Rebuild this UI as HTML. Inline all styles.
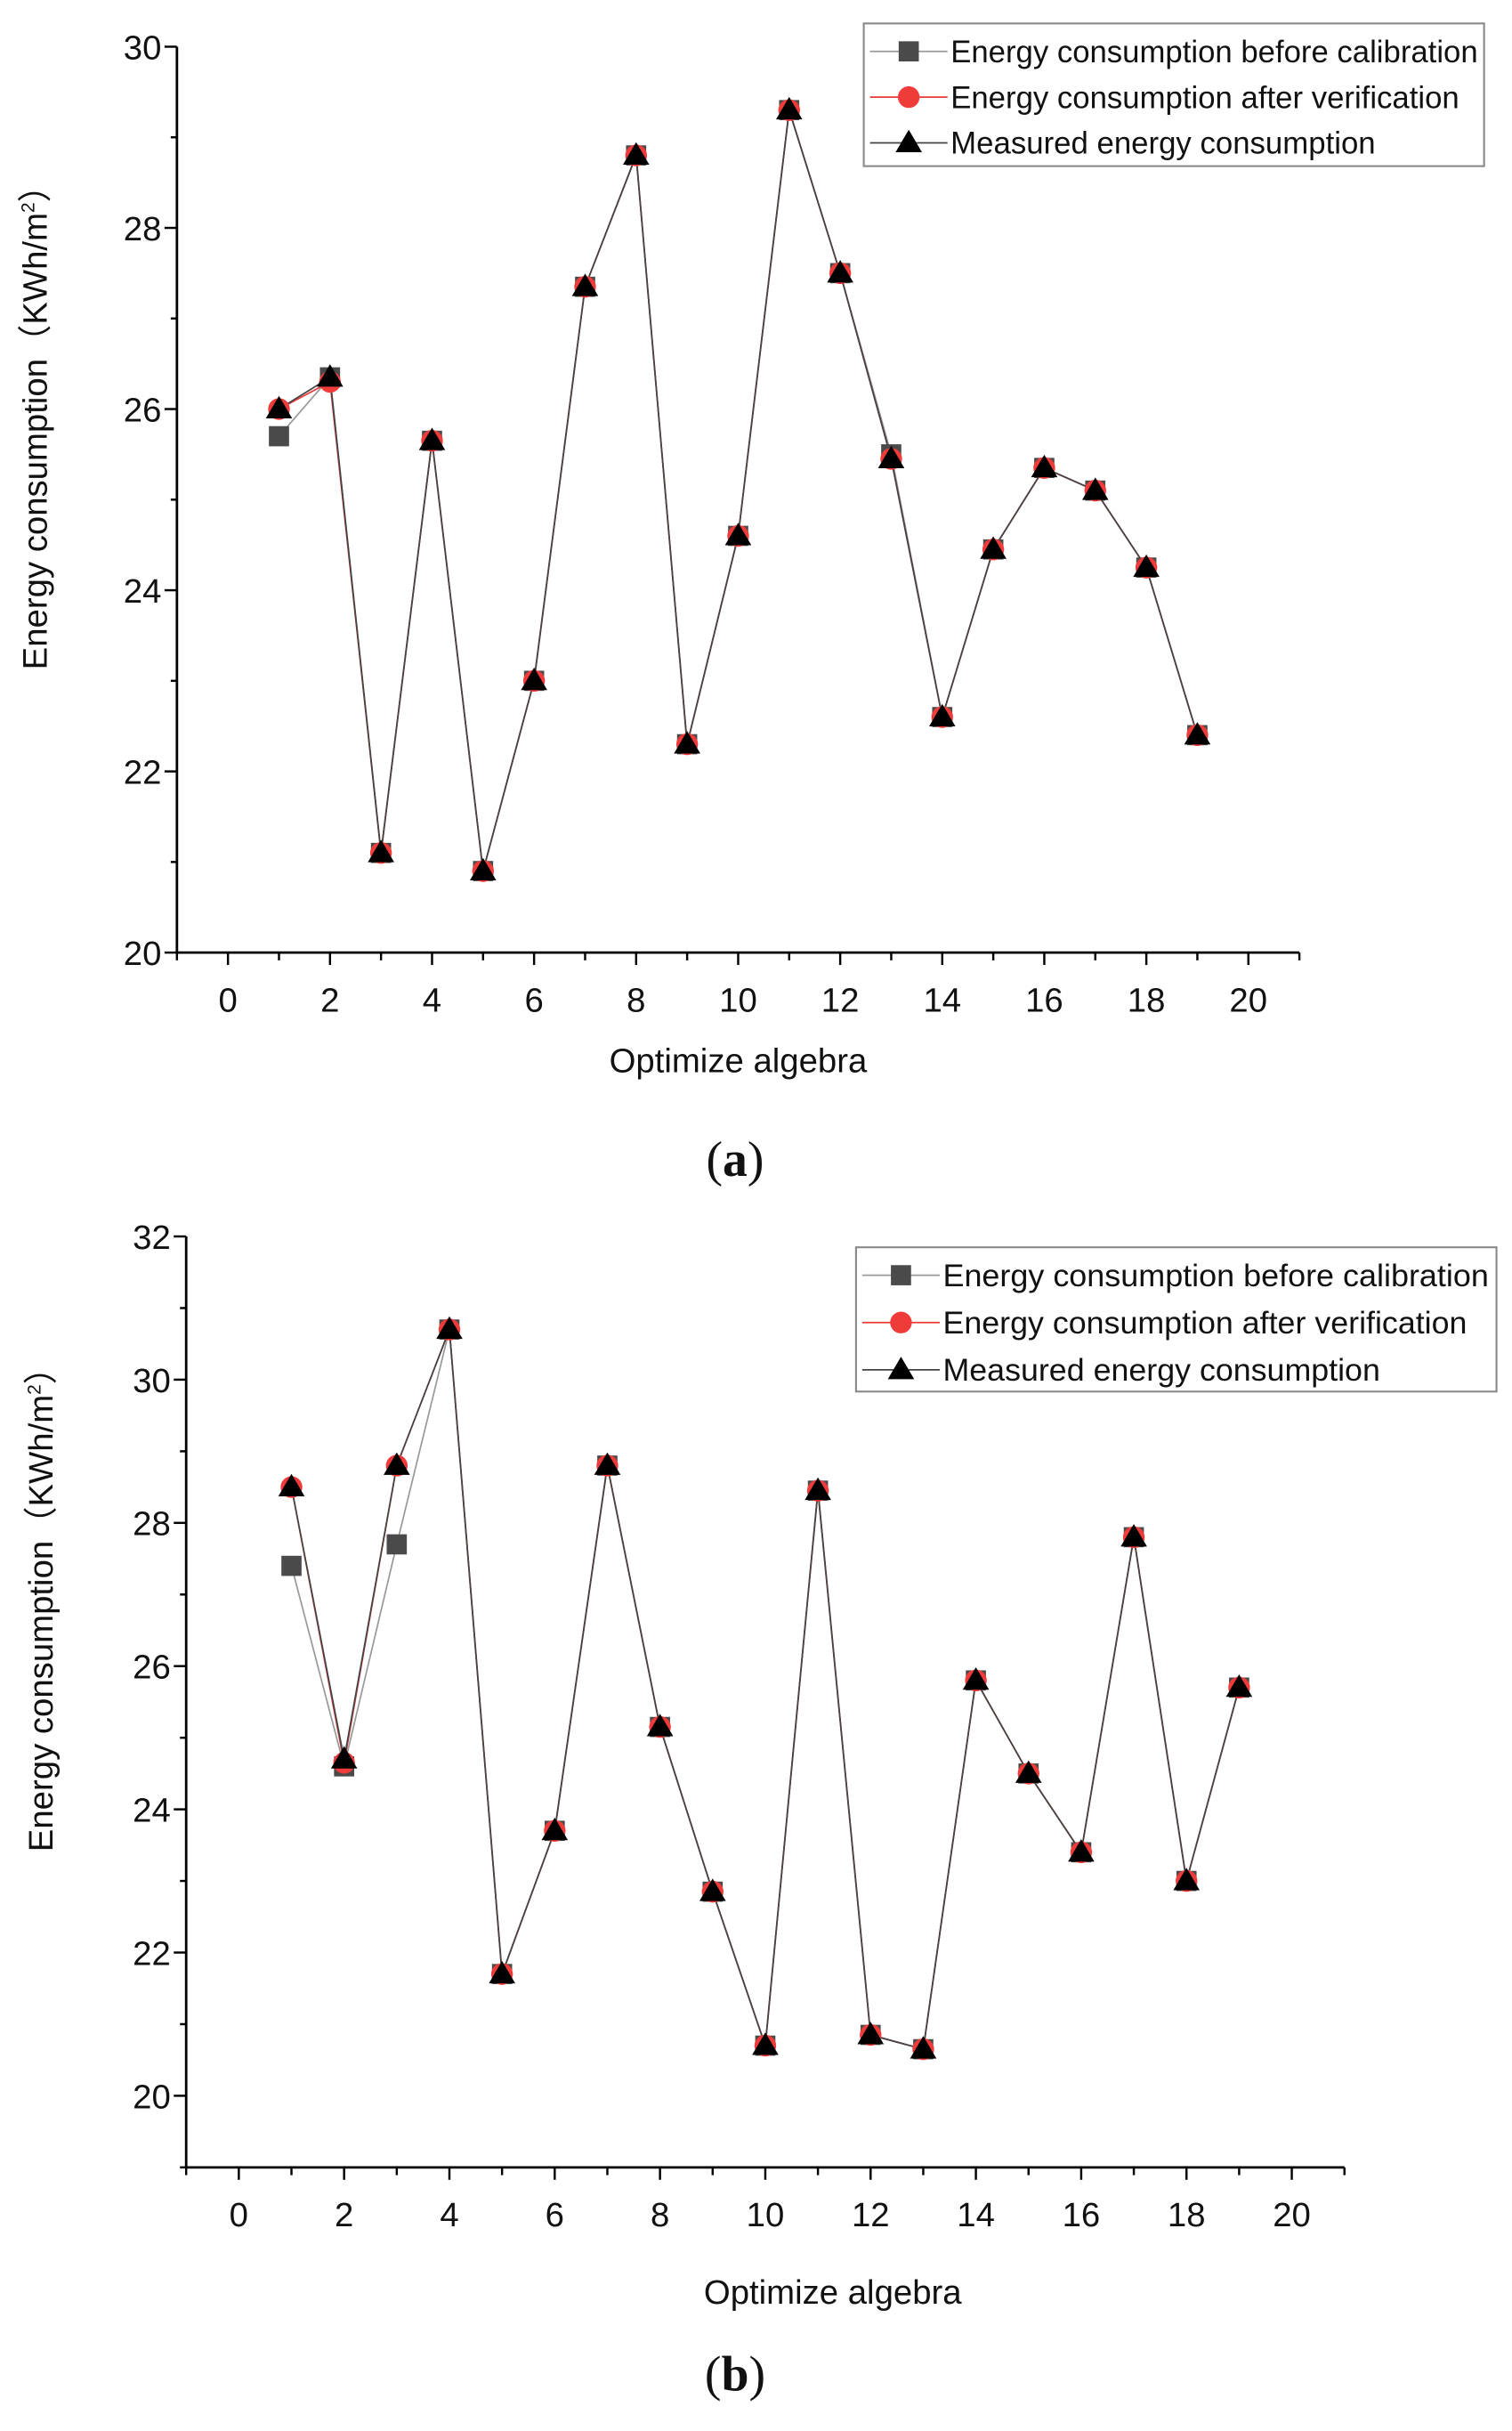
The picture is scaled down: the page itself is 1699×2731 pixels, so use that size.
<!DOCTYPE html>
<html><head><meta charset="utf-8"><style>
html,body{margin:0;padding:0;background:#fff}
svg{display:block}
text{font-family:"Liberation Sans",Arial,sans-serif;fill:#111}
</style></head><body>
<svg id="fig" width="1699" height="2731" viewBox="0 0 975 1567" xmlns="http://www.w3.org/2000/svg"></svg>
<script>
const xCats = [1,2,3,4,5,6,7,8,9,10,11,12,13,14,15,16,17,18,19];
const aBefore = [25.7,26.35,21.1,25.65,20.9,23.0,27.35,28.8,22.3,24.6,29.3,27.5,25.5,22.6,24.45,25.35,25.1,24.25,22.4];
const aAfter = [26.0,26.3,21.1,25.65,20.9,23.0,27.35,28.8,22.3,24.6,29.3,27.5,25.45,22.6,24.45,25.35,25.1,24.25,22.4];
const aMeasured = [26.0,26.35,21.1,25.65,20.9,23.0,27.35,28.8,22.3,24.6,29.3,27.5,25.45,22.6,24.45,25.35,25.1,24.25,22.4];
const bBefore = [27.4,24.6,27.7,30.7,21.7,23.7,28.8,25.15,22.85,20.7,28.45,20.85,20.65,25.8,24.5,23.4,27.8,23.0,25.7];
const bAfter = [28.5,24.65,28.8,30.7,21.7,23.7,28.8,25.15,22.85,20.7,28.45,20.85,20.65,25.8,24.5,23.4,27.8,23.0,25.7];
const bMeasured = [28.5,24.7,28.8,30.7,21.7,23.7,28.8,25.15,22.85,20.7,28.45,20.85,20.65,25.8,24.5,23.4,27.8,23.0,25.7];
const xTicks = [0,2,4,6,8,10,12,14,16,18,20];
const aYTicks = [20,22,24,26,28,30];
const bYTicks = [20,22,24,26,28,30,32];
const legendLabels = ["Energy consumption before calibration","Energy consumption after verification","Measured energy consumption"];

const NS="http://www.w3.org/2000/svg";
const svg=document.getElementById('fig');
function mk(tag,attrs,parent){const e=document.createElementNS(NS,tag);for(const k in attrs)e.setAttribute(k,attrs[k]);(parent||svg).appendChild(e);return e;}

function chart(cfg){
  const g=mk('g',{});
  
  
  const X=v=>cfg.x0+(v-cfg.xv0)*(cfg.x1-cfg.x0)/(cfg.xv1-cfg.xv0);
  const Y=v=>cfg.y0+(v-cfg.yv0)*(cfg.y1-cfg.y0)/(cfg.yv1-cfg.yv0);
  const axL=X(-1), axR=X(21), axB=Y(cfg.yMin), axT=Y(cfg.yMax);
  const ax=mk('path',{d:`M${axL} ${axT} V${axB} H${axR}`,stroke:'#000','stroke-width':1.6,fill:'none'},g);
   
  for(let v=Math.ceil(cfg.yMin);v<=cfg.yMax;v++){
    const major=v%2===0;
    mk('line',{x1:axL-(major?8:4),x2:axL,y1:Y(v),y2:Y(v),stroke:'#000','stroke-width':1.4},g);
  }
  cfg.yTicks.forEach(v=>{
    const t=mk('text',{x:axL-10,y:Y(v)+8,'text-anchor':'end','font-size':22},g);
    t.textContent=v;
     
  });
  for(let v=-1;v<=21;v++){
    const major=v%2===0;
    mk('line',{x1:X(v),x2:X(v),y1:axB,y2:axB+(major?8:5),stroke:'#000','stroke-width':1.4},g);
  }
  xTicks.forEach(v=>{
    const t=mk('text',{x:X(v),y:axB+38,'text-anchor':'middle','font-size':22},g);
    t.textContent=v;
     
  });
  const xt=mk('text',{x:cfg.xTitleX,y:cfg.xTitleY,'text-anchor':'middle','font-size':22},g);
  xt.textContent='Optimize algebra';
   
  const yt=mk('text',{x:0,y:0,'text-anchor':'middle','font-size':22,transform:`translate(${cfg.yTitleX},${cfg.yTitleY}) rotate(-90)`},g);
  yt.innerHTML='Energy consumption（KWh/m<tspan font-size="12" dy="-8">2</tspan><tspan dy="8">）</tspan>';
   
  const series=[
    {d:cfg.before,c:'#9a9a9a',m:'sq',name:'series-before-calibration'},
    {d:cfg.after,c:'#e8393b',m:'ci',name:'series-after-verification'},
    {d:cfg.measured,c:'#444',m:'tri',name:'series-measured'}];
  series.forEach(s=>{
    const sg=mk('g',{},g);
     
    mk('polyline',{points:xCats.map((x,i)=>X(x)+','+Y(s.d[i])).join(' '),fill:'none',stroke:s.c,'stroke-width':1},sg);
  });
  series.forEach(s=>{
    xCats.forEach((x,i)=>{
      const m=marker(s.m,X(x),Y(s.d[i]),g);
      
      
    });
  });
  const L=cfg.legend;
  const lg=mk('g',{},g);
   
  mk('rect',{x:L.x,y:L.y,width:L.w,height:L.h,fill:'#fff',stroke:'#888','stroke-width':1.2},lg);
  ['sq','ci','tri'].forEach((m,i)=>{
    const cy=L.y+18+i*L.dy;
    const e=mk('g',{},lg);
     
    mk('line',{x1:L.x+4,x2:L.x+54,y1:cy,y2:cy,stroke:series[i].c,'stroke-width':1},e);
    marker(m,L.x+29,cy,e);
    const t=mk('text',{x:L.x+56,y:cy+7,'font-size':20,textLength:L.tl[i],lengthAdjust:'spacingAndGlyphs'},e);
    t.textContent=legendLabels[i];
  });
  const cap=mk('text',{x:cfg.capX,y:cfg.capY,'text-anchor':'middle','font-size':32,style:'font-family:"Liberation Serif",serif'},g);
  cap.innerHTML=cfg.cap;
   
}
function marker(t,x,y,p){
  if(t==='sq')return mk('rect',{x:x-6.5,y:y-6.5,width:13,height:13,fill:'#4a4a4a'},p);
  if(t==='ci')return mk('circle',{cx:x,cy:y,r:7,fill:'#f03b3b'},p);
  return mk('path',{d:`M${x} ${y-8.5} L${x+8.5} ${y+6} L${x-8.5} ${y+6}Z`,fill:'#000'},p);
}
chart({name:'chart-a',x0:147,x1:805,xv0:0,xv1:20,y0:614,y1:30,yv0:20,yv1:30,yMin:20,yMax:30,
  yTicks:aYTicks,before:aBefore,after:aAfter,measured:aMeasured,
  xTitleX:476,xTitleY:691,yTitleX:30,yTitleY:270,
  legend:{x:557,y:15,w:400,h:92,dy:29.5,tl:[340,328,274]},capX:474,capY:758,cap:'(<tspan font-weight="bold">a</tspan>)'});
chart({name:'chart-b',x0:154,x1:833,xv0:0,xv1:20,y0:1351,y1:797,yv0:20,yv1:32,yMin:19,yMax:32,
  yTicks:bYTicks,before:bBefore,after:bAfter,measured:bMeasured,
  xTitleX:537,xTitleY:1485,yTitleX:34,yTitleY:1032,
  legend:{x:552,y:804,w:413,h:93,dy:30.5,tl:[352,338,282]},capX:474,capY:1541,cap:'(<tspan font-weight="bold">b</tspan>)'});
</script>
</body></html>
